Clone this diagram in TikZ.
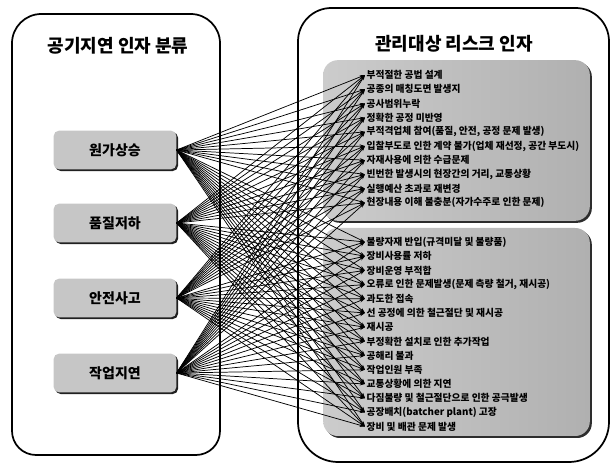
\documentclass[tikz,border=0pt]{standalone}
\usepackage{fontspec}
\setmainfont{Noto Sans CJK KR}
\usetikzlibrary{arrows.meta,shadows}
\tikzset{
  panel/.style={line width=1.3pt},
  graybox/.style={rounded corners=11pt, left color=gray!40, right color=gray!62, draw=none,
    drop shadow={shadow xshift=1.5pt, shadow yshift=-1.5pt, fill=gray!35!black, opacity=1}},
  btn/.style={rounded corners=4pt, fill=gray!45, minimum width=92pt, minimum height=29pt,
    inner sep=0pt, font=\bfseries\fontsize{10.5}{12}\selectfont,
    drop shadow={shadow xshift=1.3pt, shadow yshift=-1.3pt, fill=gray!25!black, opacity=1}},
  title/.style={font=\bfseries\fontsize{13.5}{15}\selectfont},
  item/.style={anchor=west, inner sep=1pt, font=\bfseries\fontsize{7.3}{8}\selectfont},
  link/.style={line width=0.55pt, -{Stealth[length=4pt,width=2.6pt]}},
}
\begin{document}
\begin{tikzpicture}[x=0.75pt,y=-0.75pt]
\useasboundingbox (0,0) rectangle (614,466);
% panels
\draw[panel] (12,240) [rounded corners=22pt] -- (12,14) -- (220,14) [rounded corners=18pt] -- (220,455) -- (12,455) -- cycle;
\draw[panel] (298,240) [rounded corners=25pt] -- (298,8) -- (609,8) [rounded corners=30pt] -- (609,462) -- (298,462) -- cycle;
\node[title] (ltitle) at (118,46) {공기지연 인자 분류};
\node[title] (rtitle) at (454,44) {관리대상 리스크 인자};
% gray boxes
\node[graybox, minimum width=200pt, minimum height=120.5pt] (gtop) at (456.5,140.5) {};
\node[graybox, minimum width=200pt, minimum height=156pt] (gbot) at (456.5,332) {};
% buttons
\node[btn] (b1) at (115,150) {원가상승};
\node[btn] (b2) at (115,223) {품질저하};
\node[btn] (b3) at (115,298) {안전사고};
\node[btn] (b4) at (115,373) {작업지연};
% items top
\node[item] (t1) at (365,75.0) {부적절한 공법 설계};
\node[item] (t2) at (365,89.2) {공종의 매칭도면 발생지};
\node[item] (t3) at (365,103.4) {공사범위누락};
\node[item] (t4) at (365,117.6) {정확한 공정 미반영};
\node[item] (t5) at (365,131.8) {부적격업체 참여(품질, 안전, 공정 문제 발생)};
\node[item] (t6) at (365,146.0) {입찰부도로 인한 계약 불가(업체 재선정, 공간 부도시)};
\node[item] (t7) at (365,160.2) {자재사용에 의한 수급문제};
\node[item] (t8) at (365,174.4) {빈번한 발생시의 현장간의 거리, 교통상황};
\node[item] (t9) at (365,188.6) {실행예산 초과로 재변경};
\node[item] (t10) at (365,202.8) {현장내용 이해 불충분(자가수주로 인한 문제)};
% items bottom
\node[item] (u1) at (365,242.0) {불량자재 반입(규격미달 및 불량품)};
\node[item] (u2) at (365,256.2) {장비사용률 저하};
\node[item] (u3) at (365,270.4) {장비운영 부적합};
\node[item] (u4) at (365,284.6) {오류로 인한 문제발생(문제 측량 철거, 재시공)};
\node[item] (u5) at (365,298.8) {과도한 접속};
\node[item] (u6) at (365,313.0) {선 공정에 의한 철근절단 및 재시공};
\node[item] (u7) at (365,327.2) {재시공};
\node[item] (u8) at (365,341.4) {부정확한 설치로 인한 추가작업};
\node[item] (u9) at (365,355.6) {공해리 불과};
\node[item] (u10) at (365,369.8) {작업인원 부족};
\node[item] (u11) at (365,384.0) {교통상황에 의한 지연};
\node[item] (u12) at (365,398.2) {다짐불량 및 철근절단으로 인한 공극발생};
\node[item] (u13) at (365,412.4) {공장배치(batcher plant) 고장};
\node[item] (u14) at (365,426.6) {장비 및 배관 문제 발생};
% links
\foreach \b in {b1,b2,b3,b4}{
  \foreach \k in {1,...,10}{\draw[link] (\b.east) -- (t\k.west);}
  \foreach \k in {1,...,14}{\draw[link] (\b.east) -- (u\k.west);}
}
\end{tikzpicture}
\end{document}
